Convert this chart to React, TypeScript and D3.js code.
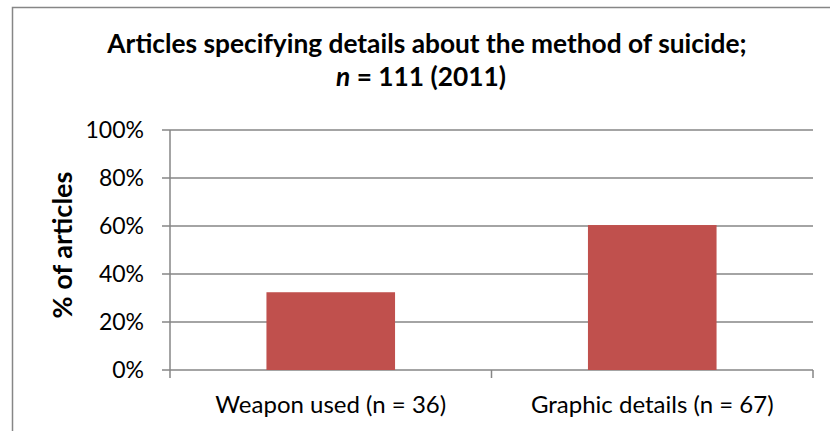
import React from "react";
import * as d3 from "d3";

const categories = ["Weapon used (n = 36)", "Graphic details (n = 67)"];
const values = [0.324, 0.604];
const yTicks = [0, 0.2, 0.4, 0.6, 0.8, 1.0];

const W = 830;
const H = 431;
const FONT = "Lato, 'Open Sans', sans-serif";

export default function App() {
  const left = 170;
  const right = 813;
  const top = 130;
  const bottom = 370;

  const x = d3.scaleBand<string>().domain(categories).range([left, right]).padding(0);
  const y = d3.scaleLinear().domain([0, 1]).range([bottom, top]);
  const barW = x.bandwidth() * 0.4;
  const fmt = d3.format(".0%");
  const gridColor = "#868686";

  const boundaries = [left, ...categories.map((c) => (x(c) as number) + x.bandwidth())];

  return (
    <div style={{ position: "absolute", left: 0, top: 0 }}>
      <svg width={W} height={H} style={{ display: "block", background: "#fff" }}>
        <rect x={12.5} y={7.5} width={900} height={600} fill="#fff" stroke="#868686" strokeWidth={1.5} />
        <text x={427} y={53} textAnchor="middle" fontFamily={FONT} fontWeight="bold" fontSize={26.3} fill="#000">
          Articles specifying details about the method of suicide;
        </text>
        <text x={421} y={86} textAnchor="middle" fontFamily={FONT} fontWeight="bold" fontSize={26.3} fill="#000">
          <tspan fontStyle="italic">n</tspan> = 111 (2011)
        </text>

        {yTicks.map((t) => (
          <g key={t}>
            <line x1={162} x2={right} y1={y(t)} y2={y(t)} stroke={gridColor} strokeWidth={1.5} />
            <text x={144} y={y(t)} dy="0.35em" textAnchor="end" fontFamily={FONT} fontSize={23} fill="#000">
              {fmt(t)}
            </text>
          </g>
        ))}
        <line x1={left} x2={left} y1={top} y2={bottom + 8} stroke={gridColor} strokeWidth={1.5} />
        {boundaries.slice(1).map((b, i) => (
          <line key={i} x1={b} x2={b} y1={bottom} y2={bottom + 8} stroke={gridColor} strokeWidth={1.5} />
        ))}

        {categories.map((c, i) => {
          const cx = (x(c) as number) + x.bandwidth() / 2;
          return (
            <g key={c}>
              <rect x={cx - barW / 2} y={y(values[i])} width={barW} height={bottom - y(values[i])} fill="#C0504D" />
              <text x={cx} y={413} textAnchor="middle" fontFamily={FONT} fontSize={24} fill="#000">
                {c}
              </text>
            </g>
          );
        })}

        <text
          transform={`translate(72, 245) rotate(-90)`}
          textAnchor="middle"
          fontFamily={FONT}
          fontWeight="bold"
          fontSize={27}
          fill="#000"
        >
          % of articles
        </text>
      </svg>
    </div>
  );
}
